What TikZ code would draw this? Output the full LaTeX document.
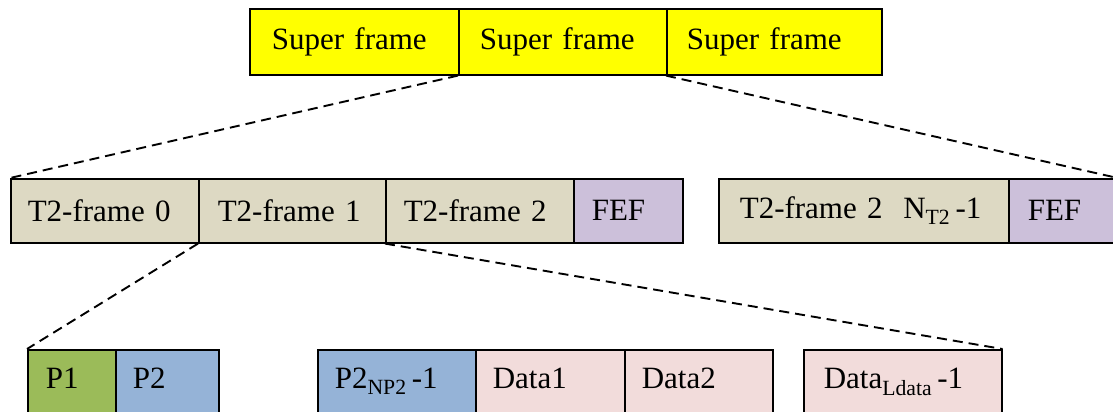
\documentclass[tikz,border=0pt]{standalone}
\usepackage{fontspec}
\newfontfamily\tnr{Liberation Serif}
\definecolor{cyel}{HTML}{FFFF00}
\definecolor{ctan}{HTML}{DDD9C3}
\definecolor{cpur}{HTML}{CCC0DA}
\definecolor{cgrn}{HTML}{9BBB59}
\definecolor{cblu}{HTML}{95B3D7}
\definecolor{cpnk}{HTML}{F2DCDB}
\tikzset{
  cell/.style args={#1/#2}{draw=black, line width=1.6pt, anchor=north west,
    minimum width=#1pt, minimum height=#2pt, text width={#1pt-34pt}, align=left,
    inner xsep=17pt, inner ysep=0pt, font=\tnr\fontsize{31}{31}\selectfont},
  lowtext/.style={text height=22pt, text depth=24pt},
  link/.style={line width=1.9pt, dash pattern=on 10pt off 6pt},
}
\begin{document}
\begin{tikzpicture}[x=1pt,y=-1pt]
\useasboundingbox (0,0) rectangle (1113,412);
\clip (0,0) rectangle (1113,412);
% top row
\node[cell=209/66, fill=cyel, inner xsep=22pt] (sf1) at (249,8) {Super frame};
\node[cell=208/66, fill=cyel, inner xsep=21pt] (sf2) at (458,8) {Super frame};
\node[cell=209/66, fill=cyel, inner xsep=20pt] (sf3) at (666,8) {Super frame};
% middle row
\node[cell=188/64, fill=ctan] (t0) at (10,178) {T2-frame 0};
\node[cell=187/64, fill=ctan, inner xsep=19pt] (t1) at (198,178) {T2-frame 1};
\node[cell=188/64, fill=ctan, inner xsep=18pt] (t2) at (385,178) {T2-frame 2};
\node[cell=107/64, fill=cpur, inner xsep=18pt] (fef1) at (573,178) {FEF};
\node[cell=290/64, fill=ctan, inner xsep=21pt] (tn) at (718,178) {T2-frame 2\ \ N\textsubscript{T2}\,-1};
\node[cell=104/64, fill=cpur, inner xsep=19pt] (fef2) at (1008,178) {FEF};
% bottom row
\node[cell=88/80, lowtext, fill=cgrn, inner xsep=18pt] (p1) at (27,349) {P1};
\node[cell=103/80, lowtext, fill=cblu, inner xsep=12pt] (p2) at (115,349) {P2};
\node[cell=158/80, lowtext, fill=cblu, inner xsep=16pt] (pn) at (317,349) {P2\textsubscript{NP2}\,-1};
\node[cell=149/80, lowtext, fill=cpnk, inner xsep=16pt] (d1) at (475,349) {Data1};
\node[cell=148/80, lowtext, fill=cpnk, inner xsep=16pt] (d2) at (624,349) {Data2};
\node[cell=192/80, lowtext, fill=cpnk, inner xsep=20pt] (dl) at (803,349) {Data\textsubscript{Ldata}\,-1};
% connectors
\draw[link] (sf2.south west) -- (t0.north west);
\draw[link] (sf3.south west) -- (fef2.north east);
\draw[link] (t1.south west) -- (p1.north west);
\draw[link] (t2.south west) -- (dl.north east);
\end{tikzpicture}
\end{document}
